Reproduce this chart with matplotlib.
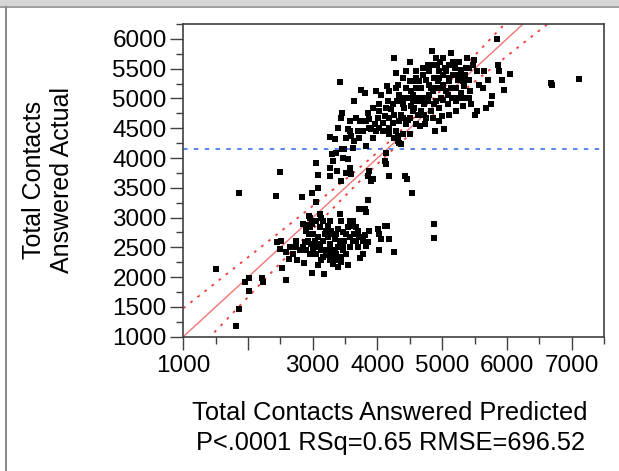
import numpy as np
import matplotlib.pyplot as plt
from matplotlib.patches import Rectangle
from matplotlib.ticker import FixedLocator, MultipleLocator

plt.rcParams['font.family'] = ['Liberation Sans', 'DejaVu Sans']

# actual by predicted values
predicted = [
    1500, 1860, 1810, 1860, 2020, 1950, 2020, 2220, 2230, 2490, 2430, 2580, 2530, 2440, 2515, 2490,
    2590, 2640, 2750, 2740, 2860, 2850, 2875, 2900, 2950, 2990, 3000, 3030, 3055, 3080, 2990, 3180,
    3105, 3130, 3160, 3210, 3235, 3260, 3285, 3310, 3340, 3360, 3390, 3415, 3440, 3465, 3490, 3515,
    3545, 3570, 3595, 3620, 3645, 3670, 3700, 3720, 3735, 3775, 3800, 3825, 3850, 3875, 3720, 3825,
    4005, 4030, 4055, 4110, 4145, 4175, 4030, 4260, 4880, 4880, 2925, 2940, 2980, 3055, 3160, 3210,
    3260, 3360, 3440, 3465, 3570, 3340, 3160, 3285, 3390, 3570, 2900, 2950, 3000, 3080, 3105, 3130,
    3185, 3235, 3260, 3310, 3365, 3415, 3465, 3515, 3545, 3620, 3670, 3695, 3775, 3310, 3390, 3440,
    3285, 3210, 3130, 2950, 2900, 2850, 2800, 2745, 2695, 2645, 3055, 3105,
    2840, 2995, 3080, 3055, 2940, 3850, 3800, 3080, 3045, 3260, 3310, 3300, 3365, 3375, 3440, 3450,
    3515, 3545, 3570, 3595, 3850, 3900, 3930, 4110, 4135, 4135, 4185, 4430, 4450, 4530, 3875, 3465,
    3260, 4260, 4315, 4365, 3490, 3620,
    3425, 3260, 3340, 3390, 3455, 3440, 3545, 3570, 3595, 3630, 3645, 3695, 3725, 3740, 3800, 3825,
    3850, 3875, 3900, 3930, 3955, 3980, 4005, 4030, 4055, 4080, 4110, 4145, 4160, 4175, 4185, 4210,
    4235, 4260, 4290, 4290, 4300, 4315, 4340, 4365, 4390, 4400, 4415, 4440, 4465, 4495, 4495, 4520,
    4545, 4570, 4595, 4620, 4645, 4660, 4675, 4700, 4725, 4740, 4750, 4775, 4790, 4800, 4825, 4840,
    4855, 4880, 4895, 4905, 4915, 4930, 4945, 4955, 4965, 4980, 4995, 5005, 5020, 5035, 5050, 5060,
    5085, 5100, 5110, 5135, 5150, 5160, 5185, 5200, 5210, 5240, 5265, 5290, 5315, 5340, 5355, 5390,
    5410, 5430, 5445, 5470, 5495, 5510, 5545, 5650, 5675, 5715, 5750, 5775, 5840, 5855, 5870, 5930,
    5955, 6045, 6675, 6700, 7115,
    4390, 4440, 4545, 4595, 4645, 4700, 4750, 4800, 4855, 4905, 4955, 5005, 5060, 5110, 5160, 5210,
    5265, 5290, 4825, 4725, 4620, 4545, 4340, 4260, 4185, 4080, 4030, 3980, 3875, 3775, 3670, 3570,
    3515, 4235, 4315, 4390, 4465, 4520, 4570, 4675, 4775, 4880, 4980, 5085, 5135, 5240, 5315, 5365,
    5420, 5005, 4905, 4700, 4595, 4495, 4440, 4340, 4185, 4135, 4030, 3930, 3825, 3775, 3720, 4390,
    4290, 4495, 4595, 4750, 4855, 4955, 5110, 5210, 5340, 5420, 5545, 5570, 5625,
]
actual = [
    2140, 3405, 1180, 1460, 1760, 1910, 1990, 1990, 1920, 3760, 3370, 1950, 2160, 2590, 2615, 2475,
    2420, 2310, 2280, 2615, 2240, 2500, 2590, 2880, 3000, 2900, 2730, 2615, 2500, 2200, 2075, 2050,
    2840, 3000, 2950, 2780, 2670, 2560, 2390, 2340, 2450, 2280, 2500, 3060, 2950, 2765, 2615, 2390,
    2200, 2950, 2865, 2615, 2725, 2840, 2780, 2670, 2325, 2615, 2700, 2520, 2590, 2780, 3145, 3090,
    2810, 2725, 2645, 2865, 2865, 2645, 2460, 2430, 2890, 2660, 2615, 2725, 2560, 2390, 2340, 2450,
    2280, 2390, 2340, 2450, 2500, 2645, 2615, 2780, 2810, 2670, 2450, 2390, 2450, 2670, 2560, 2450,
    2725, 2865, 2950, 2725, 2725, 2615, 2560, 2725, 2840, 2950, 2615, 2500, 2390, 2225, 2170, 2255,
    2450, 2365, 2280, 2840, 2780, 2895, 2450, 2505, 2390, 2505, 2950, 3060,
    3340, 3420, 3490, 3255, 3030, 3300, 3145, 3715, 3910, 3700, 3950, 4060, 4090, 3785, 3615, 4145,
    3755, 3980, 3840, 3730, 3700, 3615, 3645, 3950, 3895, 4090, 3700, 3700, 3645, 3420, 3785, 4005,
    3840, 4340, 4285, 4230, 4145, 4175,
    5270, 4350, 4315, 4510, 4760, 4675, 4480, 4620, 4370, 4285, 4955, 4450, 4620, 5150, 5090, 4200,
    4760, 4650, 4480, 4340, 4565, 5120, 4675, 4785, 5065, 4590, 4700, 5205, 4955, 4395, 4510, 4815,
    4590, 5675, 5425, 5175, 4955, 4370, 4255, 4730, 5010, 5345, 4840, 5175, 4645, 5620, 4395, 4870,
    5065, 5285, 5455, 4730, 4955, 4535, 5175, 5400, 4730, 4565, 5010, 5565, 5230, 5455, 4785, 5790,
    5120, 5345, 4450, 4955, 5565, 5285, 5455, 4840, 5620, 5175, 4705, 5400, 4980, 4480, 5510, 5120,
    4900, 5285, 5565, 5760, 5010, 5400, 5175, 5510, 4955, 5315, 5620, 5095, 4870, 5205, 5400, 5675,
    5315, 5120, 4900, 5565, 5650, 4730, 4785, 5465, 4840, 5315, 4900, 5035, 6000, 5565, 5455, 5315,
    5150, 5410, 5260, 5230, 5330,
    4675, 4565, 4785, 5175, 5285, 5010, 5315, 5065, 5565, 5175, 5345, 5230, 5455, 5345, 5620, 5175,
    5400, 5480, 5175, 4900, 5010, 4955, 4620, 4730, 4675, 4450, 4510, 4450, 4510, 4620, 4675, 4450,
    4340, 4900, 5230, 4900, 5010, 5120, 4840, 4785, 4955, 4900, 5010, 5065, 5175, 5010, 5290, 5510,
    5510, 5675, 5675, 5510, 5345, 5285, 5455, 5065, 5120, 4840, 4900, 4840, 4620, 4450, 4340, 4395,
    4450, 4675, 4565, 4675, 4675, 4620, 4730, 4785, 5010, 5010, 5455, 5230, 5175,
]

mean_actual = 4157
band_min = 95       # half width of the confidence curves at the mean
band_slope = 0.148  # how fast the curves open away from the mean

x_major = [1000, 2000, 3000, 4000, 5000, 6000, 7000]
x_labels = ['1000', '', '3000', '4000', '5000', '6000', '7000']  # 2000 left unlabelled

fig = plt.figure(figsize=(6.19, 4.71), dpi=100)
ax = fig.add_axes([183.3 / 619, 1 - 336.7 / 471, 420.7 / 619, 312.7 / 471])

xs = np.linspace(1000, 7500, 400)
band = np.sqrt(band_min ** 2 + (band_slope * (xs - mean_actual)) ** 2)
ax.plot(xs, xs, color='#f07575', lw=1.0, zorder=2)
ax.plot(xs, xs + band, color='#f03c3c', lw=1.3, dashes=(1.5, 3.5), zorder=2)
ax.plot(xs, xs - band, color='#f03c3c', lw=1.3, dashes=(1.5, 3.5), zorder=2)
ax.axhline(mean_actual, color='#4a7ff0', lw=1.3, dashes=(2.5, 3.5), zorder=2)

ax.scatter(predicted, actual, marker='s', s=21, color='black', linewidths=0, zorder=3)

ax.set_xlim(1000, 7500)
ax.set_ylim(1000, 6250)
ax.set_xticks(x_major)
ax.set_xticklabels(x_labels)
ax.xaxis.set_minor_locator(FixedLocator([1500, 2500, 3500, 4500, 5500, 6500, 7500]))
ax.set_yticks(range(1000, 6001, 500))
ax.yaxis.set_minor_locator(MultipleLocator(250))
ax.tick_params(which='major', length=9.5, width=1.0, labelsize=17.5, color='#404040', pad=2.5)
ax.tick_params(axis='x', which='major', pad=4)
ax.tick_params(which='minor', length=5, width=1.0, color='#404040')
for s in ax.spines.values():
    s.set_color('#404040')
    s.set_linewidth(1.2)

fig.text(48 / 619, 1 - 180 / 471, 'Total Contacts\nAnswered Actual', rotation=90,
         ha='center', va='center', fontsize=18, linespacing=1.25, multialignment='center')
fig.text(390 / 619, 1 - 428 / 471, 'Total Contacts Answered Predicted\nP<.0001 RSq=0.65 RMSE=696.52',
         ha='center', va='center', fontsize=18.3, linespacing=1.3, multialignment='center')

# window frame bits
fig.patches.append(Rectangle((0, 1 - 6 / 471), 1, 6 / 471, transform=fig.transFigure,
                             facecolor='#d6d6d6', edgecolor='none'))
fig.lines.append(plt.Line2D([0, 1], [1 - 6.5 / 471] * 2, transform=fig.transFigure,
                            color='#8c8c8c', lw=1.2))
fig.lines.append(plt.Line2D([5.5 / 619] * 2, [0, 1 - 6.5 / 471], transform=fig.transFigure,
                            color='#8c8c8c', lw=1.5))

fig.savefig('out.png', dpi=100)
